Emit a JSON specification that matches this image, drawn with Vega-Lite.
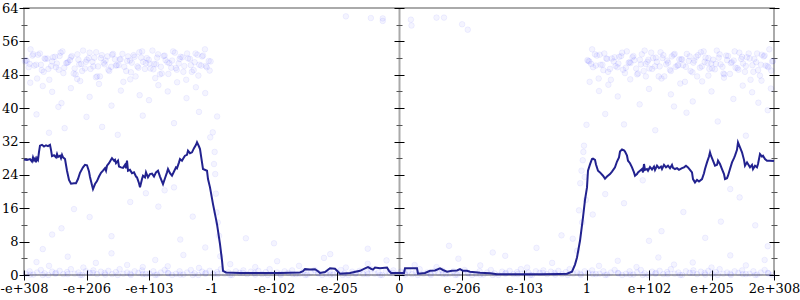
{
"$schema": "https://vega.github.io/schema/vega-lite/v6.json",
"width": 750, "height": 267,
"autosize": "none",
"padding": {"left": 24, "top": 8, "right": 26, "bottom": 25},
"background": "white",
"config": {
  "view": {"stroke": "#aaaaaa", "strokeWidth": 2},
  "axis": {"labelFont": "DejaVu Serif", "labelFontSize": 13, "labelColor": "#000000", "grid": false, "domain": false, "tickColor": "#000000", "tickWidth": 1, "title": null, "labelFlush": false, "labelOverlap": false}
},
"datasets": {
"line": [
{"x":-6.000,"y":27.7},{"x":-5.952,"y":27.6},{"x":-5.904,"y":27.8},{"x":-5.872,"y":27.2},{"x":-5.856,"y":28.2},{"x":-5.840,"y":27.5},{"x":-5.824,"y":27.9},{"x":-5.808,"y":27.0},{"x":-5.792,"y":28.0},{"x":-5.776,"y":27.6},{"x":-5.760,"y":29.5},{"x":-5.744,"y":31.0},{"x":-5.712,"y":31.2},{"x":-5.680,"y":30.8},{"x":-5.648,"y":31.1},{"x":-5.616,"y":30.9},{"x":-5.584,"y":31.2},{"x":-5.568,"y":30.0},{"x":-5.552,"y":28.5},{"x":-5.520,"y":28.7},{"x":-5.488,"y":28.2},{"x":-5.472,"y":29.0},{"x":-5.456,"y":28.3},{"x":-5.424,"y":28.6},{"x":-5.408,"y":28.0},{"x":-5.392,"y":28.8},{"x":-5.376,"y":28.2},{"x":-5.344,"y":27.8},{"x":-5.312,"y":25.0},{"x":-5.280,"y":22.8},{"x":-5.248,"y":21.9},{"x":-5.200,"y":22.0},{"x":-5.168,"y":22.0},{"x":-5.136,"y":23.0},{"x":-5.104,"y":24.5},{"x":-5.056,"y":25.8},{"x":-5.024,"y":26.4},{"x":-4.992,"y":26.3},{"x":-4.960,"y":24.8},{"x":-4.944,"y":23.5},{"x":-4.912,"y":21.5},{"x":-4.896,"y":20.6},{"x":-4.864,"y":21.8},{"x":-4.832,"y":22.5},{"x":-4.800,"y":23.6},{"x":-4.768,"y":24.5},{"x":-4.736,"y":25.0},{"x":-4.704,"y":25.6},{"x":-4.688,"y":25.0},{"x":-4.672,"y":26.2},{"x":-4.640,"y":26.8},{"x":-4.608,"y":27.6},{"x":-4.592,"y":28.0},{"x":-4.560,"y":27.4},{"x":-4.544,"y":27.6},{"x":-4.528,"y":26.8},{"x":-4.496,"y":27.4},{"x":-4.480,"y":26.0},{"x":-4.448,"y":25.8},{"x":-4.416,"y":25.7},{"x":-4.384,"y":26.4},{"x":-4.368,"y":25.6},{"x":-4.352,"y":27.4},{"x":-4.336,"y":25.0},{"x":-4.304,"y":25.2},{"x":-4.272,"y":24.4},{"x":-4.240,"y":24.6},{"x":-4.208,"y":23.6},{"x":-4.192,"y":23.4},{"x":-4.160,"y":22.0},{"x":-4.144,"y":21.0},{"x":-4.112,"y":23.0},{"x":-4.096,"y":23.8},{"x":-4.064,"y":23.4},{"x":-4.048,"y":24.6},{"x":-4.016,"y":23.4},{"x":-3.984,"y":24.2},{"x":-3.952,"y":24.3},{"x":-3.920,"y":23.6},{"x":-3.888,"y":24.6},{"x":-3.856,"y":25.0},{"x":-3.824,"y":23.6},{"x":-3.792,"y":22.4},{"x":-3.776,"y":21.8},{"x":-3.744,"y":23.2},{"x":-3.712,"y":24.6},{"x":-3.696,"y":25.4},{"x":-3.664,"y":24.4},{"x":-3.632,"y":23.8},{"x":-3.600,"y":24.8},{"x":-3.568,"y":25.8},{"x":-3.552,"y":25.6},{"x":-3.520,"y":27.0},{"x":-3.504,"y":27.8},{"x":-3.472,"y":27.4},{"x":-3.440,"y":28.2},{"x":-3.424,"y":28.6},{"x":-3.392,"y":28.8},{"x":-3.376,"y":29.8},{"x":-3.344,"y":29.2},{"x":-3.312,"y":29.4},{"x":-3.280,"y":30.4},{"x":-3.248,"y":31.2},{"x":-3.232,"y":31.8},{"x":-3.200,"y":30.8},{"x":-3.184,"y":30.2},{"x":-3.152,"y":27.0},{"x":-3.136,"y":25.4},{"x":-3.072,"y":25.0},{"x":-3.056,"y":23.0},{"x":-3.024,"y":21.0},{"x":-2.976,"y":17.0},{"x":-2.912,"y":12.2},{"x":-2.864,"y":7.4},{"x":-2.832,"y":3.5},{"x":-2.816,"y":1.0},{"x":-2.768,"y":0.6},{"x":-2.544,"y":0.5},{"x":-2.224,"y":0.45},{"x":-1.904,"y":0.5},{"x":-1.584,"y":0.6},{"x":-1.536,"y":0.9},{"x":-1.504,"y":1.4},{"x":-1.424,"y":1.3},{"x":-1.344,"y":1.4},{"x":-1.296,"y":0.9},{"x":-1.264,"y":0.5},{"x":-1.184,"y":0.7},{"x":-1.104,"y":1.6},{"x":-1.024,"y":1.5},{"x":-0.976,"y":0.8},{"x":-0.944,"y":0.3},{"x":-0.784,"y":0.5},{"x":-0.624,"y":1.0},{"x":-0.544,"y":1.6},{"x":-0.496,"y":1.9},{"x":-0.448,"y":1.5},{"x":-0.416,"y":1.3},{"x":-0.384,"y":1.8},{"x":-0.304,"y":1.6},{"x":-0.192,"y":1.8},{"x":-0.160,"y":1.0},{"x":-0.128,"y":0.5},{"x":0,"y":0.5},{"x":0.080,"y":0.5},{"x":0.096,"y":1.6},{"x":0.176,"y":1.6},{"x":0.288,"y":1.6},{"x":0.304,"y":0.3},{"x":0.416,"y":0.5},{"x":0.496,"y":1.0},{"x":0.576,"y":1.1},{"x":0.656,"y":1.6},{"x":0.704,"y":1.2},{"x":0.768,"y":0.8},{"x":0.848,"y":1.0},{"x":0.928,"y":1.1},{"x":0.976,"y":1.4},{"x":1.024,"y":1.0},{"x":1.088,"y":1.0},{"x":1.136,"y":0.8},{"x":1.296,"y":0.55},{"x":1.456,"y":0.4},{"x":1.568,"y":0.2},{"x":1.936,"y":0.2},{"x":2.256,"y":0.2},{"x":2.576,"y":0.25},{"x":2.688,"y":0.3},{"x":2.768,"y":0.8},{"x":2.816,"y":2.5},{"x":2.848,"y":4.2},{"x":2.896,"y":8.2},{"x":2.944,"y":13.8},{"x":2.976,"y":18.0},{"x":3.008,"y":21.0},{"x":3.024,"y":25.0},{"x":3.056,"y":26.5},{"x":3.088,"y":27.8},{"x":3.104,"y":27.9},{"x":3.136,"y":27.6},{"x":3.152,"y":26.5},{"x":3.184,"y":25.0},{"x":3.216,"y":24.6},{"x":3.264,"y":23.8},{"x":3.296,"y":23.1},{"x":3.328,"y":23.6},{"x":3.376,"y":24.2},{"x":3.408,"y":24.8},{"x":3.456,"y":25.8},{"x":3.488,"y":27.2},{"x":3.520,"y":28.2},{"x":3.536,"y":29.6},{"x":3.568,"y":30.1},{"x":3.600,"y":29.9},{"x":3.616,"y":29.6},{"x":3.648,"y":28.6},{"x":3.664,"y":27.4},{"x":3.696,"y":26.8},{"x":3.728,"y":25.8},{"x":3.760,"y":24.6},{"x":3.776,"y":23.8},{"x":3.808,"y":24.2},{"x":3.824,"y":24.6},{"x":3.856,"y":25.0},{"x":3.888,"y":25.4},{"x":3.904,"y":24.6},{"x":3.920,"y":26.6},{"x":3.936,"y":25.2},{"x":3.968,"y":25.4},{"x":3.984,"y":25.0},{"x":4.016,"y":25.9},{"x":4.048,"y":25.3},{"x":4.080,"y":26.0},{"x":4.096,"y":25.2},{"x":4.128,"y":26.2},{"x":4.160,"y":25.6},{"x":4.192,"y":26.0},{"x":4.208,"y":25.4},{"x":4.240,"y":26.4},{"x":4.272,"y":25.8},{"x":4.304,"y":26.2},{"x":4.336,"y":25.6},{"x":4.368,"y":26.4},{"x":4.384,"y":25.7},{"x":4.416,"y":25.4},{"x":4.448,"y":25.6},{"x":4.480,"y":25.2},{"x":4.528,"y":25.6},{"x":4.560,"y":25.8},{"x":4.592,"y":26.2},{"x":4.624,"y":25.8},{"x":4.656,"y":25.2},{"x":4.688,"y":24.6},{"x":4.704,"y":23.0},{"x":4.736,"y":22.2},{"x":4.768,"y":22.8},{"x":4.800,"y":22.4},{"x":4.848,"y":23.0},{"x":4.880,"y":24.4},{"x":4.896,"y":25.4},{"x":4.928,"y":27.0},{"x":4.960,"y":28.4},{"x":4.976,"y":29.4},{"x":4.992,"y":28.6},{"x":5.024,"y":27.4},{"x":5.056,"y":26.2},{"x":5.088,"y":26.4},{"x":5.104,"y":27.4},{"x":5.136,"y":26.6},{"x":5.168,"y":25.4},{"x":5.200,"y":24.2},{"x":5.216,"y":23.0},{"x":5.248,"y":23.2},{"x":5.264,"y":23.8},{"x":5.296,"y":25.4},{"x":5.328,"y":27.0},{"x":5.360,"y":28.0},{"x":5.376,"y":28.6},{"x":5.408,"y":30.0},{"x":5.424,"y":31.8},{"x":5.456,"y":30.6},{"x":5.488,"y":29.4},{"x":5.520,"y":27.6},{"x":5.536,"y":26.2},{"x":5.568,"y":27.0},{"x":5.584,"y":26.6},{"x":5.616,"y":25.8},{"x":5.648,"y":26.4},{"x":5.664,"y":25.4},{"x":5.696,"y":26.2},{"x":5.728,"y":25.8},{"x":5.744,"y":26.6},{"x":5.776,"y":29.0},{"x":5.808,"y":28.4},{"x":5.824,"y":28.6},{"x":5.856,"y":27.8},{"x":5.888,"y":27.4},{"x":5.936,"y":27.4},{"x":6.000,"y":27.3}
],
"pts": [
{"x":-5.985,"y":51.2},{"x":-5.925,"y":49.8},{"x":-5.865,"y":52.6},{"x":-5.805,"y":50.4},{"x":-5.745,"y":53.1},{"x":-5.685,"y":48.7},{"x":-5.625,"y":51.9},{"x":-5.565,"y":50.1},{"x":-5.505,"y":52.3},{"x":-5.445,"y":49.2},{"x":-5.385,"y":53.6},{"x":-5.325,"y":50.8},{"x":-5.265,"y":51.5},{"x":-5.205,"y":48.3},{"x":-5.145,"y":52.9},{"x":-5.085,"y":50.6},{"x":-5.025,"y":49.5},{"x":-4.965,"y":52.0},{"x":-4.905,"y":51.1},{"x":-4.845,"y":53.4},{"x":-4.785,"y":47.6},{"x":-4.725,"y":50.9},{"x":-4.665,"y":52.4},{"x":-4.605,"y":49.9},{"x":-4.545,"y":51.7},{"x":-4.485,"y":50.3},{"x":-4.425,"y":53.0},{"x":-4.365,"y":48.9},{"x":-4.305,"y":51.4},{"x":-4.245,"y":52.7},{"x":-4.185,"y":50.0},{"x":-4.125,"y":52.1},{"x":-4.065,"y":49.4},{"x":-4.005,"y":51.6},{"x":-3.945,"y":53.8},{"x":-3.885,"y":50.5},{"x":-3.825,"y":48.1},{"x":-3.765,"y":52.5},{"x":-3.705,"y":51.0},{"x":-3.645,"y":49.7},{"x":-3.585,"y":53.3},{"x":-3.525,"y":50.7},{"x":-3.465,"y":52.2},{"x":-3.405,"y":46.8},{"x":-3.345,"y":51.8},{"x":-3.285,"y":49.1},{"x":-3.225,"y":52.8},{"x":-3.165,"y":50.2},{"x":-3.105,"y":54.1},{"x":-3.045,"y":51.3},
{"x":-5.955,"y":51.3},{"x":-5.895,"y":54.1},{"x":-5.835,"y":50.2},{"x":-5.775,"y":52.8},{"x":-5.715,"y":49.1},{"x":-5.655,"y":51.8},{"x":-5.595,"y":46.8},{"x":-5.535,"y":52.2},{"x":-5.475,"y":50.7},{"x":-5.415,"y":53.3},{"x":-5.355,"y":49.7},{"x":-5.295,"y":51.0},{"x":-5.235,"y":52.5},{"x":-5.175,"y":48.1},{"x":-5.115,"y":50.5},{"x":-5.055,"y":53.8},{"x":-4.995,"y":51.6},{"x":-4.935,"y":49.4},{"x":-4.875,"y":52.1},{"x":-4.815,"y":50.0},{"x":-4.755,"y":52.7},{"x":-4.695,"y":51.4},{"x":-4.635,"y":48.9},{"x":-4.575,"y":53.0},{"x":-4.515,"y":50.3},{"x":-4.455,"y":51.7},{"x":-4.395,"y":49.9},{"x":-4.335,"y":52.4},{"x":-4.275,"y":50.9},{"x":-4.215,"y":47.6},{"x":-4.155,"y":53.4},{"x":-4.095,"y":51.1},{"x":-4.035,"y":52.0},{"x":-3.975,"y":49.5},{"x":-3.915,"y":50.6},{"x":-3.855,"y":52.9},{"x":-3.795,"y":48.3},{"x":-3.735,"y":51.5},{"x":-3.675,"y":50.8},{"x":-3.615,"y":53.6},{"x":-3.555,"y":49.2},{"x":-3.495,"y":52.3},{"x":-3.435,"y":50.1},{"x":-3.375,"y":51.9},{"x":-3.315,"y":48.7},{"x":-3.255,"y":53.1},{"x":-3.195,"y":50.4},{"x":-3.135,"y":52.6},{"x":-3.075,"y":49.8},{"x":-3.015,"y":51.2},
{"x":-5.97,"y":51.5},{"x":-5.91,"y":50.6},{"x":-5.85,"y":52.9},{"x":-5.79,"y":47.1},{"x":-5.73,"y":50.4},{"x":-5.67,"y":51.9},{"x":-5.61,"y":49.4},{"x":-5.55,"y":51.2},{"x":-5.49,"y":49.8},{"x":-5.43,"y":52.5},{"x":-5.37,"y":48.4},{"x":-5.31,"y":50.9},{"x":-5.25,"y":52.2},{"x":-5.19,"y":49.5},{"x":-5.13,"y":51.6},{"x":-5.07,"y":48.9},{"x":-5.01,"y":51.1},{"x":-4.95,"y":53.3},{"x":-4.89,"y":50.0},{"x":-4.83,"y":47.6},{"x":-4.77,"y":52.0},{"x":-4.71,"y":50.5},{"x":-4.65,"y":49.2},{"x":-4.59,"y":52.8},{"x":-4.53,"y":50.2},{"x":-4.47,"y":51.7},{"x":-4.41,"y":46.3},{"x":-4.35,"y":51.3},{"x":-4.29,"y":48.6},{"x":-4.23,"y":52.3},{"x":-4.17,"y":49.7},{"x":-4.11,"y":53.6},{"x":-4.05,"y":50.8},{"x":-3.99,"y":50.7},{"x":-3.93,"y":49.3},{"x":-3.87,"y":52.1},{"x":-3.81,"y":49.9},{"x":-3.75,"y":52.6},{"x":-3.69,"y":48.2},{"x":-3.63,"y":51.4},{"x":-3.57,"y":49.6},{"x":-3.51,"y":51.8},{"x":-3.45,"y":48.7},{"x":-3.39,"y":53.1},{"x":-3.33,"y":50.3},{"x":-3.27,"y":51.0},{"x":-3.21,"y":47.8},{"x":-3.15,"y":52.4},{"x":-3.09,"y":50.1},{"x":-3.03,"y":49.0},
{"x":3.015,"y":51.5},{"x":3.075,"y":50.6},{"x":3.135,"y":52.9},{"x":3.195,"y":47.1},{"x":3.255,"y":50.4},{"x":3.315,"y":51.9},{"x":3.375,"y":49.4},{"x":3.435,"y":51.2},{"x":3.495,"y":49.8},{"x":3.555,"y":52.5},{"x":3.615,"y":48.4},{"x":3.675,"y":50.9},{"x":3.735,"y":52.2},{"x":3.795,"y":49.5},{"x":3.855,"y":51.6},{"x":3.915,"y":48.9},{"x":3.975,"y":51.1},{"x":4.035,"y":53.3},{"x":4.095,"y":50.0},{"x":4.155,"y":47.6},{"x":4.215,"y":52.0},{"x":4.275,"y":50.5},{"x":4.335,"y":49.2},{"x":4.395,"y":52.8},{"x":4.455,"y":50.2},{"x":4.515,"y":51.7},{"x":4.575,"y":46.3},{"x":4.635,"y":51.3},{"x":4.695,"y":48.6},{"x":4.755,"y":52.3},{"x":4.815,"y":49.7},{"x":4.875,"y":53.6},{"x":4.935,"y":50.8},{"x":4.995,"y":50.7},{"x":5.055,"y":49.3},{"x":5.115,"y":52.1},{"x":5.175,"y":49.9},{"x":5.235,"y":52.6},{"x":5.295,"y":48.2},{"x":5.355,"y":51.4},{"x":5.415,"y":49.6},{"x":5.475,"y":51.8},{"x":5.535,"y":48.7},{"x":5.595,"y":53.1},{"x":5.655,"y":50.3},{"x":5.715,"y":51.0},{"x":5.775,"y":47.8},{"x":5.835,"y":52.4},{"x":5.895,"y":50.1},{"x":5.955,"y":49.0},
{"x":3.045,"y":51.2},{"x":3.105,"y":49.8},{"x":3.165,"y":52.6},{"x":3.225,"y":50.4},{"x":3.285,"y":53.1},{"x":3.345,"y":48.7},{"x":3.405,"y":51.9},{"x":3.465,"y":50.1},{"x":3.525,"y":52.3},{"x":3.585,"y":49.2},{"x":3.645,"y":53.6},{"x":3.705,"y":50.8},{"x":3.765,"y":51.5},{"x":3.825,"y":48.3},{"x":3.885,"y":52.9},{"x":3.945,"y":50.6},{"x":4.005,"y":49.5},{"x":4.065,"y":52.0},{"x":4.125,"y":51.1},{"x":4.185,"y":53.4},{"x":4.245,"y":47.6},{"x":4.305,"y":50.9},{"x":4.365,"y":52.4},{"x":4.425,"y":49.9},{"x":4.485,"y":51.7},{"x":4.545,"y":50.3},{"x":4.605,"y":53.0},{"x":4.665,"y":48.9},{"x":4.725,"y":51.4},{"x":4.785,"y":52.7},{"x":4.845,"y":50.0},{"x":4.905,"y":52.1},{"x":4.965,"y":49.4},{"x":5.025,"y":51.6},{"x":5.085,"y":53.8},{"x":5.145,"y":50.5},{"x":5.205,"y":48.1},{"x":5.265,"y":52.5},{"x":5.325,"y":51.0},{"x":5.385,"y":49.7},{"x":5.445,"y":53.3},{"x":5.505,"y":50.7},{"x":5.565,"y":52.2},{"x":5.625,"y":46.8},{"x":5.685,"y":51.8},{"x":5.745,"y":49.1},{"x":5.805,"y":52.8},{"x":5.865,"y":50.2},{"x":5.925,"y":54.1},{"x":5.985,"y":51.3},
{"x":3.03,"y":51.3},{"x":3.09,"y":54.1},{"x":3.15,"y":50.2},{"x":3.21,"y":52.8},{"x":3.27,"y":49.1},{"x":3.33,"y":51.8},{"x":3.39,"y":46.8},{"x":3.45,"y":52.2},{"x":3.51,"y":50.7},{"x":3.57,"y":53.3},{"x":3.63,"y":49.7},{"x":3.69,"y":51.0},{"x":3.75,"y":52.5},{"x":3.81,"y":48.1},{"x":3.87,"y":50.5},{"x":3.93,"y":53.8},{"x":3.99,"y":51.6},{"x":4.05,"y":49.4},{"x":4.11,"y":52.1},{"x":4.17,"y":50.0},{"x":4.23,"y":52.7},{"x":4.29,"y":51.4},{"x":4.35,"y":48.9},{"x":4.41,"y":53.0},{"x":4.47,"y":50.3},{"x":4.53,"y":51.7},{"x":4.59,"y":49.9},{"x":4.65,"y":52.4},{"x":4.71,"y":50.9},{"x":4.77,"y":47.6},{"x":4.83,"y":53.4},{"x":4.89,"y":51.1},{"x":4.95,"y":52.0},{"x":5.01,"y":49.5},{"x":5.07,"y":50.6},{"x":5.13,"y":52.9},{"x":5.19,"y":48.3},{"x":5.25,"y":51.5},{"x":5.31,"y":50.8},{"x":5.37,"y":53.6},{"x":5.43,"y":49.2},{"x":5.49,"y":52.3},{"x":5.55,"y":50.1},{"x":5.61,"y":51.9},{"x":5.67,"y":48.7},{"x":5.73,"y":53.1},{"x":5.79,"y":50.4},{"x":5.85,"y":52.6},{"x":5.91,"y":49.8},{"x":5.97,"y":51.2},
{"x":-5.9,"y":46.1},{"x":-5.7,"y":45.3},{"x":-5.55,"y":43.9},{"x":-5.4,"y":41.2},{"x":-5.25,"y":44.8},{"x":-5.1,"y":46.5},{"x":-4.95,"y":42.7},{"x":-4.8,"y":45.8},{"x":-4.6,"y":40.6},{"x":-4.45,"y":44.2},{"x":-4.3,"y":46.9},{"x":-4.15,"y":43.1},{"x":-4.0,"y":41.9},{"x":-3.85,"y":45.5},{"x":-3.7,"y":44.0},{"x":-3.55,"y":46.2},{"x":-3.4,"y":42.4},{"x":-3.25,"y":45.0},{"x":-3.1,"y":43.6},{"x":-5.8,"y":38.5},{"x":-5.35,"y":35.2},{"x":-5.0,"y":37.9},{"x":-4.5,"y":33.6},{"x":-4.1,"y":38.2},{"x":-3.6,"y":36.4},{"x":-3.2,"y":39.1},{"x":-5.6,"y":34.1},{"x":-4.75,"y":35.5},{"x":-5.45,"y":40.3},{"x":-3.9,"y":47.2},{"x":-4.85,"y":47.4},{"x":-5.15,"y":47.0},
{"x":3.05,"y":46.3},{"x":3.2,"y":44.1},{"x":3.35,"y":45.6},{"x":3.5,"y":42.8},{"x":3.7,"y":46.9},{"x":3.85,"y":40.9},{"x":4.0,"y":44.6},{"x":4.2,"y":47.1},{"x":4.35,"y":43.3},{"x":4.5,"y":45.9},{"x":4.7,"y":41.6},{"x":4.85,"y":46.4},{"x":5.0,"y":44.0},{"x":5.2,"y":47.3},{"x":5.35,"y":42.2},{"x":5.5,"y":45.4},{"x":5.65,"y":43.8},{"x":5.8,"y":46.6},{"x":5.95,"y":44.7},{"x":3.3,"y":38.6},{"x":3.6,"y":36.1},{"x":4.1,"y":34.7},{"x":4.6,"y":38.9},{"x":5.1,"y":36.8},{"x":5.55,"y":33.4},{"x":5.9,"y":39.5},{"x":4.4,"y":40.4},{"x":5.75,"y":41.3},{"x":3.95,"y":47.6},{"x":4.95,"y":47.8},
{"x":-5.7,"y":6.2},{"x":-5.4,"y":11.2},{"x":-5.2,"y":15.8},{"x":-5.55,"y":9.7},{"x":-4.95,"y":13.9},{"x":-4.6,"y":9.3},{"x":-4.3,"y":17.5},{"x":-4.05,"y":19.6},{"x":-3.85,"y":16.4},{"x":-3.5,"y":8.5},{"x":-3.3,"y":14.0},{"x":-3.6,"y":21.0},{"x":-3.75,"y":20.3},
{"x":-2.45,"y":8.8},{"x":-2.0,"y":7.6},{"x":-1.1,"y":5.0},{"x":-0.5,"y":6.3},{"x":0.8,"y":7.0},{"x":1.5,"y":5.4},{"x":2.2,"y":6.5},{"x":2.6,"y":9.5},
{"x":3.3,"y":19.4},{"x":3.6,"y":17.2},{"x":3.9,"y":22.7},{"x":4.2,"y":10.5},{"x":4.55,"y":15.1},{"x":4.9,"y":8.9},{"x":5.15,"y":12.8},{"x":5.45,"y":18.6},{"x":5.7,"y":11.9},{"x":5.9,"y":6.9},{"x":3.1,"y":14.5},{"x":5.3,"y":20.6},{"x":4.0,"y":8.2},
{"x":-3.02,"y":33.0},{"x":-2.98,"y":34.2},{"x":-2.96,"y":26.6},{"x":-2.94,"y":24.2},{"x":-2.93,"y":19.5},{"x":-2.92,"y":15.0},{"x":-2.9,"y":12.6},{"x":-3.1,"y":6.6},{"x":-2.88,"y":9.4},{"x":-2.95,"y":29.5},{"x":-2.86,"y":4.5},{"x":-2.91,"y":38.0},
{"x":2.9,"y":22.0},{"x":2.92,"y":25.0},{"x":2.94,"y":27.5},{"x":2.95,"y":29.5},{"x":2.93,"y":12.6},{"x":2.78,"y":8.7},{"x":2.96,"y":31.0},{"x":2.97,"y":23.5},{"x":2.99,"y":18.0},{"x":3.0,"y":36.0},{"x":2.88,"y":15.5},
{"x":-0.26,"y":61.5},{"x":-0.26,"y":60.9},{"x":0.19,"y":61.2},{"x":0.2,"y":59.8},{"x":0.6,"y":61.7},{"x":0.72,"y":61.7},{"x":1.01,"y":60.1},{"x":1.1,"y":58.8},{"x":-0.85,"y":62.0},{"x":-0.45,"y":61.6},
{"x":-5.8,"y":3.1},{"x":-5.6,"y":2.2},{"x":-5.3,"y":4.4},{"x":-5.05,"y":1.8},{"x":-4.85,"y":2.9},{"x":-4.6,"y":5.2},{"x":-4.35,"y":2.4},{"x":-4.1,"y":1.9},{"x":-3.9,"y":3.6},{"x":-3.7,"y":2.1},{"x":-3.45,"y":4.8},{"x":-3.2,"y":1.7},{"x":-2.7,"y":2.6},{"x":-2.3,"y":1.9},{"x":-1.95,"y":3.3},{"x":-1.6,"y":2.2},{"x":-1.2,"y":4.1},{"x":-0.85,"y":1.8},{"x":-0.5,"y":2.7},{"x":-0.2,"y":3.5},{"x":0.25,"y":2.4},{"x":0.6,"y":1.9},{"x":0.95,"y":3.9},{"x":1.3,"y":2.3},{"x":1.7,"y":4.6},{"x":2.05,"y":1.8},{"x":2.45,"y":2.9},{"x":2.85,"y":5.8},{"x":3.2,"y":2.2},{"x":3.5,"y":3.4},{"x":3.8,"y":1.9},{"x":4.15,"y":4.2},{"x":4.4,"y":2.5},{"x":4.7,"y":3.0},{"x":5.0,"y":1.8},{"x":5.3,"y":4.7},{"x":5.55,"y":2.3},{"x":5.85,"y":3.6},
{"x":-5.97,"y":0.3},{"x":-5.91,"y":0.9},{"x":-5.85,"y":0.1},{"x":-5.79,"y":0.6},{"x":-5.73,"y":1.2},{"x":-5.67,"y":0.4},{"x":-5.61,"y":0.0},{"x":-5.55,"y":0.8},{"x":-5.49,"y":0.5},{"x":-5.43,"y":1.0},{"x":-5.37,"y":0.2},{"x":-5.31,"y":0.7},{"x":-5.25,"y":1.4},{"x":-5.19,"y":0.3},{"x":-5.13,"y":0.6},{"x":-5.07,"y":0.0},{"x":-5.01,"y":0.9},{"x":-4.95,"y":0.5},{"x":-4.89,"y":1.1},{"x":-4.83,"y":0.2},
{"x":-4.77,"y":0.8},{"x":-4.71,"y":0.5},{"x":-4.65,"y":1.0},{"x":-4.59,"y":0.2},{"x":-4.53,"y":0.7},{"x":-4.47,"y":1.4},{"x":-4.41,"y":0.3},{"x":-4.35,"y":0.6},{"x":-4.29,"y":0.0},{"x":-4.23,"y":0.9},{"x":-4.17,"y":0.5},{"x":-4.11,"y":1.1},{"x":-4.05,"y":0.2},{"x":-3.99,"y":0.3},{"x":-3.93,"y":0.9},{"x":-3.87,"y":0.1},{"x":-3.81,"y":0.6},{"x":-3.75,"y":1.2},{"x":-3.69,"y":0.4},{"x":-3.63,"y":0.0},
{"x":-3.57,"y":0.3},{"x":-3.51,"y":0.9},{"x":-3.45,"y":0.1},{"x":-3.39,"y":0.6},{"x":-3.33,"y":1.2},{"x":-3.27,"y":0.4},{"x":-3.21,"y":0.0},{"x":-3.15,"y":0.8},{"x":-3.09,"y":0.5},{"x":-3.03,"y":1.0},{"x":-2.97,"y":0.2},{"x":-2.91,"y":0.7},{"x":-2.85,"y":1.4},{"x":-2.79,"y":0.3},{"x":-2.73,"y":0.6},{"x":-2.67,"y":0.0},{"x":-2.61,"y":0.9},{"x":-2.55,"y":0.5},{"x":-2.49,"y":1.1},{"x":-2.43,"y":0.2},
{"x":-2.37,"y":0.8},{"x":-2.31,"y":0.5},{"x":-2.25,"y":1.0},{"x":-2.19,"y":0.2},{"x":-2.13,"y":0.7},{"x":-2.07,"y":1.4},{"x":-2.01,"y":0.3},{"x":-1.95,"y":0.6},{"x":-1.89,"y":0.0},{"x":-1.83,"y":0.9},{"x":-1.77,"y":0.5},{"x":-1.71,"y":1.1},{"x":-1.65,"y":0.2},{"x":-1.59,"y":0.3},{"x":-1.53,"y":0.9},{"x":-1.47,"y":0.1},{"x":-1.41,"y":0.6},{"x":-1.35,"y":1.2},{"x":-1.29,"y":0.4},{"x":-1.23,"y":0.0},
{"x":-1.17,"y":0.3},{"x":-1.11,"y":0.9},{"x":-1.05,"y":0.1},{"x":-0.99,"y":0.6},{"x":-0.93,"y":1.2},{"x":-0.87,"y":0.4},{"x":-0.81,"y":0.0},{"x":-0.75,"y":0.8},{"x":-0.69,"y":0.5},{"x":-0.63,"y":1.0},{"x":-0.57,"y":0.2},{"x":-0.51,"y":0.7},{"x":-0.45,"y":1.4},{"x":-0.39,"y":0.3},{"x":-0.33,"y":0.6},{"x":-0.27,"y":0.0},{"x":-0.21,"y":0.9},{"x":-0.15,"y":0.5},{"x":-0.09,"y":1.1},{"x":-0.03,"y":0.2},
{"x":0.03,"y":0.8},{"x":0.09,"y":0.5},{"x":0.15,"y":1.0},{"x":0.21,"y":0.2},{"x":0.27,"y":0.7},{"x":0.33,"y":1.4},{"x":0.39,"y":0.3},{"x":0.45,"y":0.6},{"x":0.51,"y":0.0},{"x":0.57,"y":0.9},{"x":0.63,"y":0.5},{"x":0.69,"y":1.1},{"x":0.75,"y":0.2},{"x":0.81,"y":0.3},{"x":0.87,"y":0.9},{"x":0.93,"y":0.1},{"x":0.99,"y":0.6},{"x":1.05,"y":1.2},{"x":1.11,"y":0.4},{"x":1.17,"y":0.0},
{"x":1.23,"y":0.3},{"x":1.29,"y":0.9},{"x":1.35,"y":0.1},{"x":1.41,"y":0.6},{"x":1.47,"y":1.2},{"x":1.53,"y":0.4},{"x":1.59,"y":0.0},{"x":1.65,"y":0.8},{"x":1.71,"y":0.5},{"x":1.77,"y":1.0},{"x":1.83,"y":0.2},{"x":1.89,"y":0.7},{"x":1.95,"y":1.4},{"x":2.01,"y":0.3},{"x":2.07,"y":0.6},{"x":2.13,"y":0.0},{"x":2.19,"y":0.9},{"x":2.25,"y":0.5},{"x":2.31,"y":1.1},{"x":2.37,"y":0.2},
{"x":2.43,"y":0.8},{"x":2.49,"y":0.5},{"x":2.55,"y":1.0},{"x":2.61,"y":0.2},{"x":2.67,"y":0.7},{"x":2.73,"y":1.4},{"x":2.79,"y":0.3},{"x":2.85,"y":0.6},{"x":2.91,"y":0.0},{"x":2.97,"y":0.9},{"x":3.03,"y":0.5},{"x":3.09,"y":1.1},{"x":3.15,"y":0.2},{"x":3.21,"y":0.3},{"x":3.27,"y":0.9},{"x":3.33,"y":0.1},{"x":3.39,"y":0.6},{"x":3.45,"y":1.2},{"x":3.51,"y":0.4},{"x":3.57,"y":0.0},
{"x":3.63,"y":0.3},{"x":3.69,"y":0.9},{"x":3.75,"y":0.1},{"x":3.81,"y":0.6},{"x":3.87,"y":1.2},{"x":3.93,"y":0.4},{"x":3.99,"y":0.0},{"x":4.05,"y":0.8},{"x":4.11,"y":0.5},{"x":4.17,"y":1.0},{"x":4.23,"y":0.2},{"x":4.29,"y":0.7},{"x":4.35,"y":1.4},{"x":4.41,"y":0.3},{"x":4.47,"y":0.6},{"x":4.53,"y":0.0},{"x":4.59,"y":0.9},{"x":4.65,"y":0.5},{"x":4.71,"y":1.1},{"x":4.77,"y":0.2},
{"x":4.83,"y":0.8},{"x":4.89,"y":0.5},{"x":4.95,"y":1.0},{"x":5.01,"y":0.2},{"x":5.07,"y":0.7},{"x":5.13,"y":1.4},{"x":5.19,"y":0.3},{"x":5.25,"y":0.6},{"x":5.31,"y":0.0},{"x":5.37,"y":0.9},{"x":5.43,"y":0.5},{"x":5.49,"y":1.1},{"x":5.55,"y":0.2},{"x":5.61,"y":0.3},{"x":5.67,"y":0.9},{"x":5.73,"y":0.1},{"x":5.79,"y":0.6},{"x":5.85,"y":1.2},{"x":5.91,"y":0.4},{"x":5.97,"y":0.0},
{"x":-5.9,"y":0.1},{"x":-5.7,"y":0.0},{"x":-5.5,"y":0.3},{"x":-5.3,"y":0.2},{"x":-5.1,"y":0.0},{"x":-4.9,"y":0.5},{"x":-4.7,"y":0.1},{"x":-4.5,"y":0.0},{"x":-4.3,"y":0.3},{"x":-4.1,"y":0.2},{"x":-3.9,"y":0.0},{"x":-3.7,"y":0.5},{"x":-3.5,"y":0.1},{"x":-3.3,"y":0.0},{"x":-3.1,"y":0.3},{"x":-2.9,"y":0.2},{"x":-2.7,"y":0.0},{"x":-2.5,"y":0.5},{"x":-2.3,"y":0.1},{"x":-2.1,"y":0.0},{"x":-1.9,"y":0.3},{"x":-1.7,"y":0.2},{"x":-1.5,"y":0.0},{"x":-1.3,"y":0.5},{"x":-1.1,"y":0.1},{"x":-0.9,"y":0.0},{"x":-0.7,"y":0.3},{"x":-0.5,"y":0.2},{"x":-0.3,"y":0.0},{"x":-0.1,"y":0.5},{"x":0.1,"y":0.1},{"x":0.3,"y":0.0},{"x":0.5,"y":0.3},{"x":0.7,"y":0.2},{"x":0.9,"y":0.0},{"x":1.1,"y":0.5},{"x":1.3,"y":0.1},{"x":1.5,"y":0.0},{"x":1.7,"y":0.3},{"x":1.9,"y":0.2},{"x":2.1,"y":0.0},{"x":2.3,"y":0.5},{"x":2.5,"y":0.1},{"x":2.7,"y":0.0},{"x":2.9,"y":0.3},{"x":3.1,"y":0.2},{"x":3.3,"y":0.0},{"x":3.5,"y":0.5},{"x":3.7,"y":0.1},{"x":3.9,"y":0.0},{"x":4.1,"y":0.3},{"x":4.3,"y":0.2},{"x":4.5,"y":0.0},{"x":4.7,"y":0.5},{"x":4.9,"y":0.1},{"x":5.1,"y":0.0},{"x":5.3,"y":0.3},{"x":5.5,"y":0.2},{"x":5.7,"y":0.0},{"x":5.9,"y":0.5}
]
},
"resolve": {"axis": {"x": "independent", "y": "independent"}},
"layer": [
  {
    "data": {"name": "pts"},
    "mark": {"type": "circle", "size": 32, "opacity": 1, "fill": "#0000ff", "stroke": "#0000ff", "fillOpacity": 0.045, "strokeOpacity": 0.055, "strokeWidth": 1},
    "encoding": {
      "x": {"field": "x", "type": "quantitative", "scale": {"domain": [-6, 6], "nice": false, "zero": false},
            "axis": {"orient": "bottom", "offset": -5, "tickSize": 10, "values": [-6,-5,-4,-3,-2,-1,0,1,2,3,4,5,6], "labelPadding": 2,
                     "labelExpr": "['-e+308','-e+206','-e+103','-1','-e-102','-e-205','0','e-206','e-103','1','e+102','e+205','2e+308'][datum.value+6]"}},
      "y": {"field": "y", "type": "quantitative", "scale": {"domain": [0, 64], "nice": false, "zero": false},
            "axis": {"orient": "left", "offset": -5, "tickSize": 10, "values": [0,8,16,24,32,40,48,56,64], "labelPadding": 1}}
    }
  },
  {
    "data": {"name": "line"},
    "mark": {"type": "line", "color": "#22228f", "strokeWidth": 2},
    "encoding": {
      "x": {"field": "x", "type": "quantitative", "axis": null},
      "y": {"field": "y", "type": "quantitative", "axis": {"orient": "left", "offset": -3, "tickSize": 6, "values": [4,12,20,28,36,44,52,60], "labels": false, "tickColor": "#555555"}}
    }
  },
  {
    "data": {"name": "line"},
    "mark": {"type": "point", "opacity": 0},
    "encoding": {
      "y": {"field": "y", "type": "quantitative", "axis": {"orient": "left", "offset": -375, "domain": true, "domainColor": "#aaaaaa", "domainWidth": 2, "ticks": false, "labels": false}}
    }
  },
  {
    "data": {"name": "line"},
    "mark": {"type": "point", "opacity": 0},
    "encoding": {
      "y": {"field": "y", "type": "quantitative", "axis": {"orient": "left", "offset": -380, "tickSize": 10, "values": [0,8,16,24,32,40,48,56,64], "labels": false}}
    }
  },
  {
    "data": {"name": "line"},
    "mark": {"type": "point", "opacity": 0},
    "encoding": {
      "y": {"field": "y", "type": "quantitative", "axis": {"orient": "left", "offset": -378, "tickSize": 6, "values": [4,12,20,28,36,44,52,60], "labels": false, "tickColor": "#555555"}}
    }
  },
  {
    "data": {"name": "line"},
    "mark": {"type": "point", "opacity": 0},
    "encoding": {
      "y": {"field": "y", "type": "quantitative", "axis": {"orient": "right", "offset": -5, "tickSize": 10, "values": [0,8,16,24,32,40,48,56,64], "labels": false}}
    }
  },
  {
    "data": {"name": "line"},
    "mark": {"type": "point", "opacity": 0},
    "encoding": {
      "y": {"field": "y", "type": "quantitative", "axis": {"orient": "right", "offset": -3, "tickSize": 6, "values": [4,12,20,28,36,44,52,60], "labels": false, "tickColor": "#555555"}}
    }
  }
]
}
